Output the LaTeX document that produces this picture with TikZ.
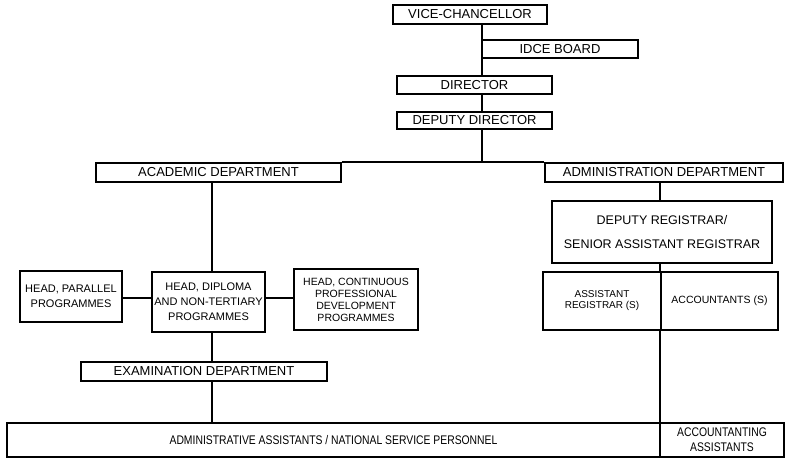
\documentclass[tikz,border=0pt]{standalone}
\usepackage{fontspec}
\setmainfont{Liberation Sans}
\newfontfamily\condfont[FakeStretch=0.83]{Liberation Sans}
\begin{document}
\begin{tikzpicture}[x=1pt,y=-1pt,
  box/.style={draw, line width=1.6pt, fill=white, inner sep=0pt, align=center},
  big/.style={font=\fontsize{13}{15}\selectfont},
  mid/.style={font=\fontsize{11}{15}\selectfont},
  small/.style={font=\fontsize{10.5}{12}\selectfont},
  cond/.style={font=\condfont\fontsize{12.5}{15}\selectfont},
  link/.style={line width=1.8pt}]
\useasboundingbox (0,0) rectangle (785,458);

% top chain
\node[box, big, minimum width=154pt, minimum height=19pt] (vc) at (470,14.5) {VICE-CHANCELLOR};
\node[box, big, minimum width=156pt, minimum height=18pt] (idce) at (560,49) {IDCE BOARD};
\node[box, big, minimum width=155pt, minimum height=18pt] (dir) at (474.5,85) {DIRECTOR};
\node[box, big, minimum width=155pt, minimum height=17pt] (dd) at (474.5,120.5) {DEPUTY DIRECTOR};
\coordinate (sp) at (482,163);

% departments
\node[box, big, minimum width=245pt, minimum height=19pt] (acad) at (218.5,172.5) {ACADEMIC DEPARTMENT};
\node[box, big, minimum width=238pt, minimum height=19pt] (adm) at (664,172.5) {ADMINISTRATION DEPARTMENT};

% academic side
\node[box, mid, minimum width=102pt, minimum height=51pt] (hpar) at (71,296.5) {HEAD, PARALLEL\\PROGRAMMES};
\node[box, mid, minimum width=113pt, minimum height=60pt] (hdip) at (208.5,302) {HEAD, DIPLOMA\\AND NON-TERTIARY\\PROGRAMMES};
\node[box, small, minimum width=124pt, minimum height=61pt] (hcpd) at (356,299.5) {HEAD, CONTINUOUS\\PROFESSIONAL\\DEVELOPMENT\\PROGRAMMES};
\node[box, big, minimum width=246pt, minimum height=19pt] (exam) at (204,371.5) {EXAMINATION DEPARTMENT};

% administration side
\node[box, font=\fontsize{12.5}{24}\selectfont, minimum width=220pt, minimum height=62pt] (dreg) at (662,232) {DEPUTY REGISTRAR/\\SENIOR ASSISTANT REGISTRAR};
\node[box, font=\fontsize{10}{11}\selectfont, minimum width=118pt, minimum height=58pt] (areg) at (602,301) {ASSISTANT\\REGISTRAR (S)};
\node[box, font=\fontsize{10.5}{12}\selectfont, minimum width=117pt, minimum height=58pt] (accs) at (719.5,301) {ACCOUNTANTS (S)};

% bottom row
\node[box, cond, minimum width=653pt, minimum height=34pt] (aas) at (333.5,440) {ADMINISTRATIVE ASSISTANTS / NATIONAL SERVICE PERSONNEL};
\node[box, cond, minimum width=124pt, minimum height=34pt] (acas) at (722,440) {ACCOUNTANTING\\ASSISTANTS};

% connectors
\draw[link] (vc.south -| sp) -- (dir.north -| sp);
\draw[link] (dir.south -| sp) -- (dd.north -| sp);
\draw[link] (dd.south -| sp) -- (sp);
\draw[link] (acad.north east) -- (adm.north west);
\draw[link] (acad.south -| hdip.north) ++(3.5,0) coordinate (ac) -- (ac |- hdip.north);
\draw[link] (hpar.east |- 0,298) -- (hdip.west |- 0,298);
\draw[link] (hdip.east |- 0,298) -- (hcpd.west |- 0,298);
\draw[link] (ac |- hdip.south) -- (ac |- exam.north);
\draw[link] (ac |- exam.south) -- (ac |- aas.north);
\draw[link] (adm.south -| accs.west) -- (dreg.north -| accs.west);
\draw[link] (dreg.south -| accs.west) -- (accs.north west);
\draw[link] (accs.south west) -- (accs.west |- acas.north);
\end{tikzpicture}
\end{document}
